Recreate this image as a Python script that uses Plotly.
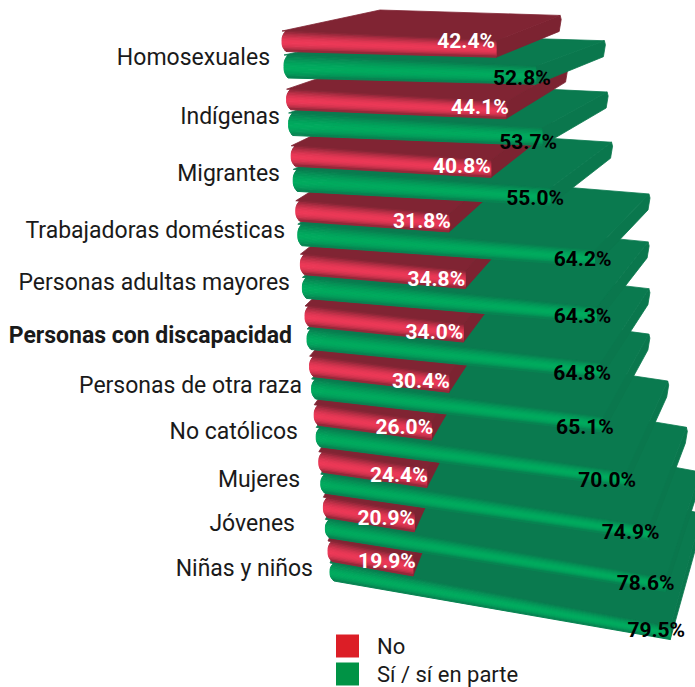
import math
import plotly.graph_objects as go

categories = ["Homosexuales", "Indígenas", "Migrantes", "Trabajadoras domésticas",
              "Personas adultas mayores", "Personas con discapacidad", "Personas de otra raza",
              "No católicos", "Mujeres", "Jóvenes", "Niñas y niños"]
no_values = [42.4, 44.1, 40.8, 31.8, 34.8, 34.0, 30.4, 26.0, 24.4, 20.9, 19.9]
si_values = [52.8, 53.7, 55.0, 64.2, 64.3, 64.8, 65.1, 70.0, 74.9, 78.6, 79.5]
legend_names = ["No", "Sí / sí en parte"]

# layout constants (pixel space of the picture)
LABEL_RIGHT = [270, 280, 280, 285, 290, 292, 302, 298, 300, 295, 313]
LABEL_Y = [59, 118, 175, 232, 284, 337, 387, 433, 481, 525, 570]
NO_NUDGE = [(-1, 0), (3, 5), (0, 5), (2, 6), (0, 8), (0, 7), (1, 6), (2, 5), (1, 6), (1, 5), (3, 4)]
SI_NUDGE = [(0, 5), (0, 8), (-1, 3), (2, 2), (0, 2), (-4, 4), (-4, 4), (-5, 1), (-4, -1), (-6, -2), (0, -3)]
W, H = 695, 687
RED_SH = ((0.50, 0.14, 0.20), (0.93, 0.22, 0.34))
GRN_SH = ((0.04, 0.48, 0.31), (0.00, 0.67, 0.37))


def row_y(i):
    return 31 + 59 * i - 0.8 * i * i


def front(s, i, v, u=0.0):
    """Point on the front face of a bar: s series, i row, v value, u 0..1 across the face"""
    k = (5.05 - 0.078 * i) if s == 0 else (4.77 - 0.049 * i)
    slope = 0.045 + 0.0143 * i
    xl = 282 + 4.6 * i + (2 if s else 0)
    y0 = row_y(i) + (0 if s == 0 else 24 - 0.2 * i)
    t0 = 20.5 if s == 0 else 23 - 0.5 * i
    d = k * v
    t = t0 * (1 - 0.3 * d / 340)
    return xl + d, y0 + d * slope + t * u


def back(s, i, v):
    k = 4.25 - 0.02 * i
    slope = 0.03 + 0.017 * i
    y0 = 34 + 48 * i - 0.65 * i * i - (24 if s == 0 else 0)
    return 380 + k * v, y0 + k * v * slope


def rgb(c):
    return "rgb(%d,%d,%d)" % tuple(round(255 * a) for a in c)


def mix(a, b, t):
    return tuple(p + (q - p) * t for p, q in zip(a, b))


fig = go.Figure()


def poly(pts, color, width=0.8):
    xs = [p[0] for p in pts] + [pts[0][0]]
    ys = [p[1] for p in pts] + [pts[0][1]]
    fig.add_trace(go.Scatter(x=xs, y=ys, mode="lines", fill="toself", fillcolor=color,
                             line=dict(color=color, width=width), hoverinfo="skip", showlegend=False))


def bar(s, i, v):
    dark, light = RED_SH if s == 0 else GRN_SH
    top = rgb(dark)
    side = rgb(tuple(c * 0.97 for c in dark))
    fl, fr = front(s, i, 0), front(s, i, v)
    bl, br = back(s, i, 0), back(s, i, v)
    frb = front(s, i, v, 1.0)
    thick = 16
    poly([fr, br, (br[0] + 1, br[1] + 4), (br[0] - 1, br[1] + thick), frb], side)
    poly([fl, fr, br, bl], top)
    n = 14
    for b in range(n):
        u0, u1 = b / n, (b + 1) / n
        um = (u0 + u1) / 2
        shade = math.sin(math.pi * um ** 1.25) ** 0.8
        col = rgb(mix(dark, light, shade))
        r0 = 4 * (1 - math.sin(math.pi * u0)) ** 1.5
        r1 = 4 * (1 - math.sin(math.pi * u1)) ** 1.5
        a0, a1 = front(s, i, 0, u0), front(s, i, 0, u1)
        c0, c1 = front(s, i, v, u0), front(s, i, v, u1)
        poly([(a0[0] + r0, a0[1]), (c0[0], c0[1]), (c1[0], c1[1]), (a1[0] + r1, a1[1])], col, 1.0)


for i in range(len(categories) - 1, -1, -1):
    bar(1, i, si_values[i])
    bar(0, i, no_values[i])

# value labels: red in white, green in black
for i in range(len(categories)):
    x, y = front(1, i, si_values[i])
    fig.add_trace(go.Scatter(x=[x - 14 + SI_NUDGE[i][0]], y=[y + 8 + SI_NUDGE[i][1]], mode="text",
                             text=["%.1f%%" % si_values[i]],
                             textposition="middle center", hoverinfo="skip", showlegend=False,
                             textfont=dict(family="Roboto", size=21, color="black", weight="bold")))
for i in range(len(categories)):
    x, y = front(0, i, no_values[i])
    fig.add_trace(go.Scatter(x=[x - 29 + NO_NUDGE[i][0]], y=[y + 2 + NO_NUDGE[i][1]], mode="text",
                             text=["%.1f%%" % no_values[i]],
                             textposition="middle center", hoverinfo="skip", showlegend=False,
                             textfont=dict(family="Roboto", size=21, color="white", weight="bold")))

# category labels
for i, c in enumerate(categories):
    bold = c == "Personas con discapacidad"
    fig.add_trace(go.Scatter(x=[LABEL_RIGHT[i]], y=[LABEL_Y[i]], mode="text", text=[c],
                             textposition="middle left", hoverinfo="skip", showlegend=False,
                             textfont=dict(family="Roboto", size=23, color="#1a1a1a",
                                           weight="bold" if bold else "normal")))

# legend
for name, col, y in zip(legend_names, ["#dc1e26", "#009345"], [646, 674]):
    fig.add_trace(go.Scatter(x=[347.5], y=[y], mode="markers", hoverinfo="skip", showlegend=False,
                             marker=dict(symbol="square", size=23, color=col)))
    fig.add_trace(go.Scatter(x=[377], y=[y + 2], mode="text", text=[name], textposition="middle right",
                             hoverinfo="skip", showlegend=False,
                             textfont=dict(family="Roboto", size=22, color="#1a1a1a")))

fig.update_layout(width=W, height=H, margin=dict(l=0, r=0, t=0, b=0),
                  paper_bgcolor="white", plot_bgcolor="white", showlegend=False,
                  xaxis=dict(range=[0, W], visible=False, fixedrange=True),
                  yaxis=dict(range=[H, 0], visible=False, fixedrange=True))
fig.write_html("out.html", config=dict(displayModeBar=False),
               post_script="document.body.style.margin='0';document.body.style.overflow='hidden';")
